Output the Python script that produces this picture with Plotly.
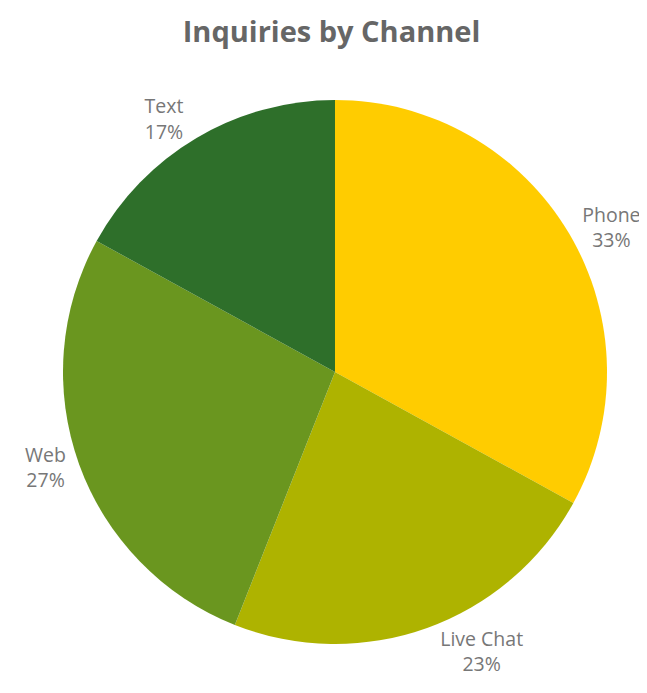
import plotly.graph_objects as go

channels = ["Phone", "Live Chat", "Web", "Text"]
shares = [33, 23, 27, 17]
colors = ["#FFCC00", "#AEB300", "#6A961F", "#2E6F2A"]

fig = go.Figure(go.Pie(
    labels=channels,
    values=shares,
    sort=False,
    direction="clockwise",
    rotation=0,
    marker=dict(colors=colors, line=dict(width=0)),
    textinfo="label+percent",
    textposition="outside",
    texttemplate="%{label}<br>%{percent:.0%}",
    outsidetextfont=dict(family="Open Sans", size=19.5, color="#777777"),
    showlegend=False,
    hoverinfo="label+percent",
))

fig.update_layout(
    width=647, height=693,
    title=dict(text="<b>Inquiries by Channel</b>", x=0.5, xanchor="center", y=0.966, yanchor="middle",
               font=dict(family="Open Sans", size=29, color="#666666")),
    margin=dict(l=50, r=10, t=92, b=57),
    paper_bgcolor="white",
    plot_bgcolor="white",
    font=dict(family="Open Sans"),
)

fig.write_html("out.html")
